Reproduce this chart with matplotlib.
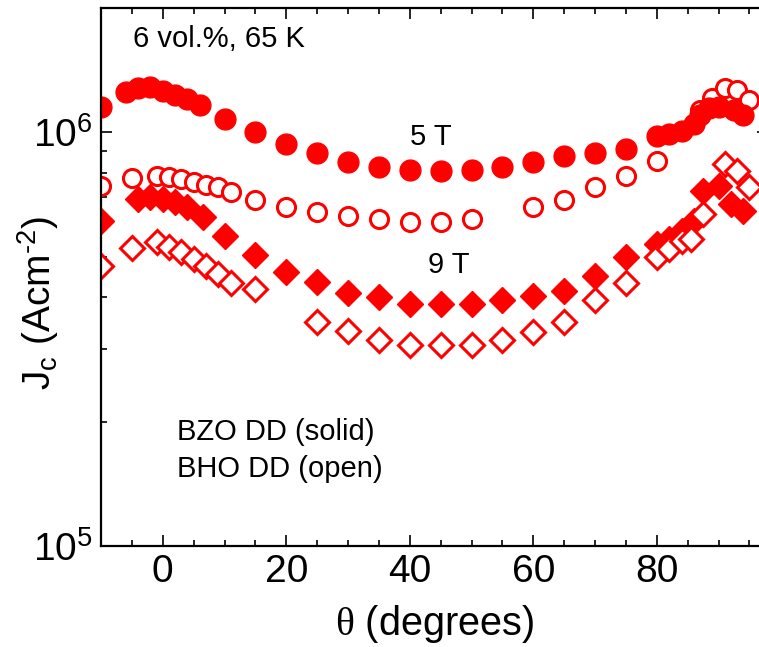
"""
Angular dependence of Jc at 65 K for 6 vol.% BZO and BHO doped films
"""

# Imports
import matplotlib
matplotlib.use("Agg")
import matplotlib.pyplot as plt
import matplotlib.ticker as ticker

# Fonts
plt.rcParams["font.family"] = ["Liberation Sans", "DejaVu Sans"]
plt.rcParams["mathtext.fontset"] = "custom"
plt.rcParams["mathtext.rm"] = "Liberation Sans"
plt.rcParams["mathtext.it"] = "Liberation Sans:italic"
plt.rcParams["mathtext.sf"] = "Liberation Serif"
plt.rcParams["mathtext.default"] = "regular"

RED = "#ff0000"

# BZO DD, 5 T (solid circles)
bzo_5t_theta = [-10, -6, -4, -2, 0, 2, 4, 6, 10, 15, 20, 25, 30, 35, 40, 45, 50, 55,
                60, 65, 70, 75, 80, 82, 84, 86, 87, 88.5, 90, 92.5, 94]
bzo_5t_jc = [1.155e6, 1.25e6, 1.284e6, 1.291e6, 1.262e6, 1.234e6, 1.207e6, 1.168e6,
             1.075e6, 1.0e6, 0.936e6, 0.89e6, 0.847e6, 0.823e6, 0.81e6, 0.806e6,
             0.81e6, 0.823e6, 0.847e6, 0.875e6, 0.89e6, 0.91e6, 0.978e6, 0.994e6,
             1.011e6, 1.051e6, 1.105e6, 1.149e6, 1.155e6, 1.136e6, 1.105e6]

# BHO DD, 5 T (open circles)
bho_5t_theta = [-10, -5, -1, 1, 3, 5, 7, 9, 11, 15, 20, 25, 30, 35, 40, 45, 50,
                60, 65, 70, 75, 80, 87, 89, 91, 93, 95]
bho_5t_jc = [0.741e6, 0.775e6, 0.784e6, 0.78e6, 0.77e6, 0.758e6, 0.745e6, 0.737e6,
             0.717e6, 0.686e6, 0.66e6, 0.642e6, 0.627e6, 0.617e6, 0.607e6, 0.607e6,
             0.617e6, 0.66e6, 0.686e6, 0.737e6, 0.784e6, 0.851e6, 1.136e6, 1.214e6,
             1.284e6, 1.269e6, 1.201e6]

# BZO DD, 9 T (solid diamonds)
bzo_9t_theta = [-10, -4, -2, 0, 2, 4, 6.5, 10, 15, 20, 25, 30, 35, 40, 45, 50, 55,
                60, 65, 70, 75, 80, 82, 84, 86, 87.5, 90, 92, 94]
bzo_9t_jc = [0.61e6, 0.69e6, 0.70e6, 0.69e6, 0.678e6, 0.66e6, 0.624e6, 0.562e6,
             0.505e6, 0.46e6, 0.435e6, 0.409e6, 0.40e6, 0.385e6, 0.385e6, 0.385e6,
             0.394e6, 0.403e6, 0.414e6, 0.45e6, 0.50e6, 0.537e6, 0.552e6, 0.577e6,
             0.61e6, 0.721e6, 0.741e6, 0.671e6, 0.645e6]

# BHO DD, 9 T (open diamonds)
bho_9t_theta = [-10, -5, -1, 1, 3, 5, 7, 9, 11, 15, 25, 30, 35, 40, 45, 50, 55,
                60, 65, 70, 75, 80, 82, 84, 85.5, 87.5, 91, 93, 95]
bho_9t_jc = [0.475e6, 0.526e6, 0.543e6, 0.528e6, 0.514e6, 0.494e6, 0.475e6, 0.455e6,
             0.433e6, 0.418e6, 0.348e6, 0.331e6, 0.315e6, 0.307e6, 0.307e6, 0.307e6,
             0.315e6, 0.33e6, 0.348e6, 0.394e6, 0.433e6, 0.50e6, 0.522e6, 0.545e6,
             0.552e6, 0.634e6, 0.837e6, 0.806e6, 0.737e6]

# Figure, right spine falls just outside the picture
fig = plt.figure(figsize=(7.59, 6.47), dpi=100)
ax = fig.add_axes([101 / 759, 1 - 546 / 647, 667 / 759, 538 / 647])

# Data
ax.plot(bho_5t_theta, bho_5t_jc, "o", ls="none", ms=13, mfc="white", mec=RED, mew=2.2)
ax.plot(bzo_5t_theta, bzo_5t_jc, "o", ls="none", ms=15, mfc=RED, mec=RED, mew=1)
ax.plot(bzo_9t_theta, bzo_9t_jc, "D", ls="none", ms=13, mfc=RED, mec=RED, mew=1)
ax.plot(bho_9t_theta, bho_9t_jc, "D", ls="none", ms=12.3, mfc="white", mec=RED, mew=2.2)

# Axes
ax.set_yscale("log")
ax.set_xlim(-10, 98)
ax.set_ylim(1e5, 2e6)
ax.xaxis.set_major_locator(ticker.MultipleLocator(20))
ax.xaxis.set_minor_locator(ticker.MultipleLocator(5))
ax.yaxis.set_minor_formatter(ticker.NullFormatter())
ax.tick_params(which="both", direction="in", top=True, right=True, width=1.2,
               labelsize=28)
ax.tick_params(which="major", length=8, pad=6)
ax.tick_params(which="minor", length=4.5)
for spine in ax.spines.values():
    spine.set_linewidth(1.6)

# Labels
ax.set_xlabel(r"$\mathsf{\theta}$ (degrees)", fontsize=28.5, labelpad=9)
ax.set_ylabel(r"J$_c$ (Acm$^{\text{-}2}$)", fontsize=28)
ax.yaxis.set_label_coords(-0.06, 0.452)

# Annotations
fig.text(133 / 759, 1 - 47 / 647, "6 vol.%, 65 K", fontsize=21, va="baseline")
fig.text(410 / 759, 1 - 145 / 647, "5 T", fontsize=21, va="baseline")
fig.text(428 / 759, 1 - 273 / 647, "9 T", fontsize=21, va="baseline")
fig.text(177 / 759, 1 - 440 / 647, "BZO DD (solid)", fontsize=21, va="baseline")
fig.text(177 / 759, 1 - 477 / 647, "BHO DD (open)", fontsize=21, va="baseline")

# Save graph
fig.savefig("out.png", dpi=100)
